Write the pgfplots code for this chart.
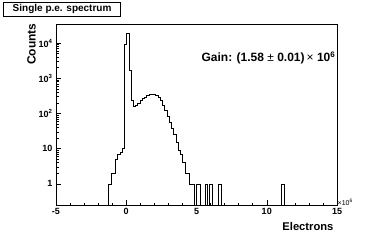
\documentclass[border=0pt]{standalone}
\usepackage{pgfplots}
\pgfplotsset{compat=1.18}
\usepackage{fontspec}
\setmainfont{Liberation Sans}
\begin{document}
\begin{tikzpicture}[x=1pt,y=1pt]
\useasboundingbox (0,0) rectangle (374,242);
\begin{axis}[
  at={(56pt,37pt)}, anchor=south west,
  scale only axis, width=281pt, height=181pt,
  xmin=-5, xmax=15, ymode=log, ymin=0.25, ymax=3.5e4,
  xtick={-5,0,5,10,15}, minor x tick num=4,
  xticklabels={-5,0,5,10,15},
  ytick={1,10,100,1000,10000},
  yticklabels={1,10,10\textsuperscript{2},10\textsuperscript{3},10\textsuperscript{4}},
  tick align=inside, xtick pos=bottom, ytick pos=left,
  major tick length=5pt, minor tick length=2.5pt,
  tick style={black, line width=0.5pt},
  ticklabel style={font=\fontsize{9}{9}\selectfont\bfseries},
  /pgf/number format/assume math mode=true,
  axis line style={line width=0.6pt},
  clip=true,
]
\addplot[const plot, black, line width=0.55pt] coordinates {
(-1.42,0.001) (-1.26,1) (-1.10,2) (-0.94,2) (-0.78,5) (-0.62,7) (-0.46,8) (-0.30,10)
(-0.14,9000) (0.02,19000) (0.18,1700) (0.34,240) (0.50,160) (0.66,170) (0.82,190)
(0.98,235) (1.14,265) (1.30,295) (1.46,330) (1.62,345) (1.78,360) (1.94,350)
(2.10,320) (2.26,285) (2.42,235) (2.58,170) (2.74,120) (2.90,85) (3.06,57)
(3.22,38) (3.38,25) (3.54,15) (3.70,9) (3.86,7) (4.02,4) (4.18,2) (4.34,2)
(4.50,1) (4.66,1) (4.82,0.001) (4.98,1) (5.14,1) (5.30,0.001) (5.62,1)
(5.78,0.001) (5.94,1) (6.10,0.001) (6.58,1) (6.74,0.001) (11.06,1) (11.22,0.001)
(15,0.001)
};
\end{axis}
\node[draw, line width=0.6pt, anchor=north west, minimum width=117pt, minimum height=14.3pt, inner sep=0pt, font=\fontsize{10}{10}\selectfont\bfseries] at (3.3,240.3) {Single p.e. spectrum};
\node[rotate=90, anchor=east, font=\fontsize{12}{12}\selectfont\bfseries] at (31.5,222) {Counts};
\node[anchor=east, font=\fontsize{11.2}{12}\selectfont\bfseries] at (337,16) {Electrons};
\node[anchor=east, inner sep=0pt, font=\fontsize{12}{12}\selectfont\bfseries] at (335.5,184) {Gain: (1.58 {\mdseries ±} 0.01)\,{\mdseries ×}\ 10\textsuperscript{6}};
\node[anchor=west, inner sep=0.5pt, font=\fontsize{7}{8}\selectfont] at (337,39.5) {×10\textsuperscript{6}};
\end{tikzpicture}
\end{document}
